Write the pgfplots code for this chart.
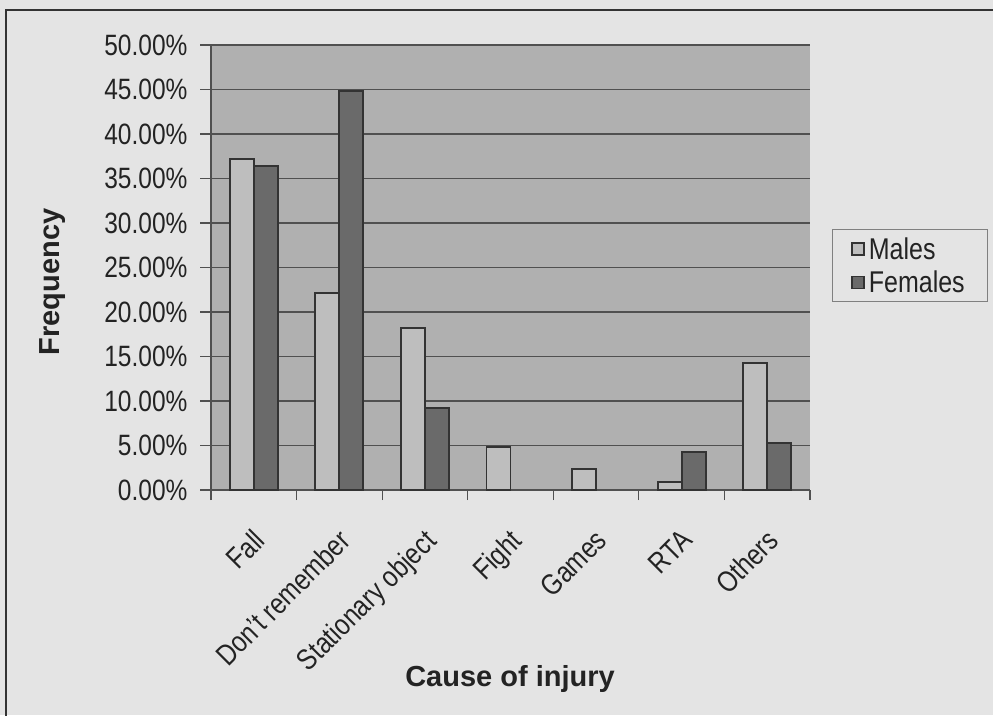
\documentclass[border=0pt]{standalone}
\usepackage{graphicx}
\usepackage{pgfplots}
\pgfplotsset{compat=1.18}
\usepackage{fontspec}
\setmainfont{Liberation Sans}

\definecolor{pagebg}{RGB}{228,228,228}
\definecolor{plotbg}{RGB}{176,176,176}
\definecolor{malebar}{RGB}{190,190,190}
\definecolor{femalebar}{RGB}{106,106,106}
\definecolor{gridc}{RGB}{80,80,80}
\definecolor{txt}{RGB}{35,35,35}

% the scanned text is a narrow Arial, so stretch it upwards a bit
\newcommand{\tall}[1]{\scalebox{1}[1.2]{#1}}

\begin{document}
\begin{tikzpicture}
\useasboundingbox (0,0) rectangle (993pt,715pt);
\fill[pagebg] (0,0) rectangle (993pt,715pt);
\draw[line width=2.5pt, black!80] (6pt,-5pt) -- (6pt,705pt) -- (1000pt,705pt);
\begin{axis}[
    at={(211pt,225pt)}, anchor=south west,
    width=599pt, height=445pt, scale only axis,
    xmin=-0.5, xmax=6.5, ymin=0, ymax=50,
    ybar=0pt, bar width=24pt,
    axis x line*=bottom, axis y line*=left,
    axis line style={line width=1.5pt, gridc, -},
    axis background/.style={fill=plotbg},
    ymajorgrids, grid style={line width=1.3pt, gridc},
    ytick={0,5,...,50},
    yticklabel={\tall{\pgfmathprintnumber[fixed,fixed zerofill,precision=2]{\tick}\%}},
    /pgf/number format/assume math mode=true,
    xtick={0,...,6},
    xticklabels={\tall{Fall}, \tall{Don't remember}, \tall{Stationary object},
        \tall{Fight}, \tall{Games}, \tall{RTA}, \tall{Others}},
    minor xtick={-0.5,0.5,...,6.5},
    major x tick style={draw=none},
    tick style={line width=1.2pt, gridc},
    tick align=outside,
    major tick length=11pt, minor tick length=10pt,
    ticklabel style={font=\fontsize{24.5}{28}\selectfont, text=txt},
    y tick label style={xshift=-9pt},
    x tick label style={xshift=-2pt, yshift=-22pt, rotate=45, anchor=north east},
    ylabel={Frequency},
    ylabel style={at={(axis description cs:-0.265,0.4674)}, anchor=center,
        font=\fontsize{29}{33}\selectfont\bfseries, text=txt},
    xlabel={Cause of injury},
    xlabel style={at={(axis description cs:0.4992,-0.4247)}, anchor=center,
        font=\fontsize{29}{33}\selectfont\bfseries, text=txt},
    legend style={at={(axis description cs:1.0367,0.5865)}, anchor=north west,
        draw=gray, fill=pagebg, line width=0.8pt,
        font=\fontsize{25}{30}\selectfont, text=txt,
        inner xsep=19pt, inner ysep=6pt, row sep=6pt,
        nodes={inner xsep=4pt}},
    legend cell align=left,
    legend image code/.code={\draw[#1, line width=1.5pt] (0pt,-6pt) rectangle (12pt,6pt);},
]
\addplot[fill=malebar, draw=black!80, line width=1.8pt] coordinates {
    (0,37.2) (1,22.1) (2,18.2) (3,4.85) (4,2.4) (5,0.86) (6,14.3)
};
\addlegendentry{\tall{Males}}
\addplot[fill=femalebar, draw=black!80, line width=1.8pt] coordinates {
    (0,36.4) (1,44.85) (2,9.2) (5,4.3) (6,5.3)
};
\addlegendentry{\tall{Females}}
\end{axis}
\end{tikzpicture}
\end{document}
